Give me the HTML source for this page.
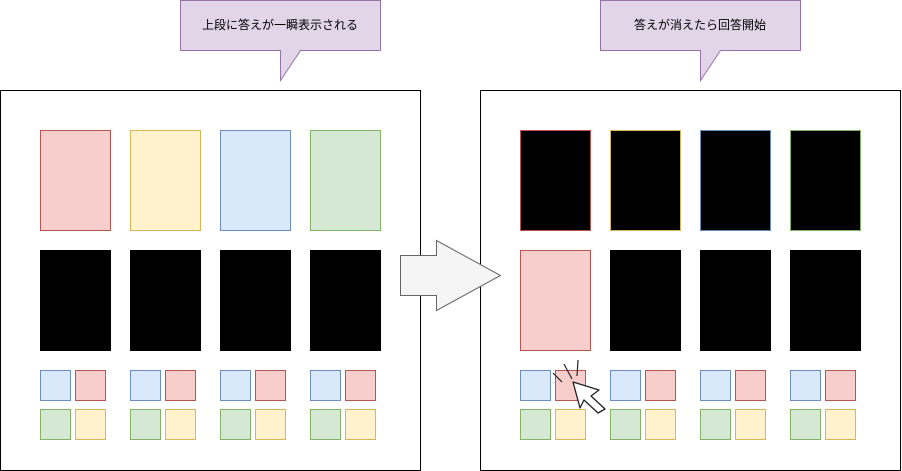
<!DOCTYPE html>
<html><head><meta charset="utf-8"><style>
html,body{margin:0;padding:0;background:#fff;}
svg{display:block;}
text{font-family:"Liberation Sans","Noto Sans CJK JP",sans-serif;font-size:12px;fill:#000;}
</style></head><body>
<svg width="902" height="471" viewBox="0 0 902 471" xmlns="http://www.w3.org/2000/svg">
<g shape-rendering="crispEdges">
<rect x="0.5" y="90.5" width="420" height="380" fill="#fff" stroke="#000"/>
<rect x="480.5" y="90.5" width="420" height="380" fill="#fff" stroke="#000"/>
<!-- left top cards -->
<rect x="40.5" y="130.5" width="70" height="100" fill="#f8cecc" stroke="#b85450"/>
<rect x="130.5" y="130.5" width="70" height="100" fill="#fff2cc" stroke="#d6b656"/>
<rect x="220.5" y="130.5" width="70" height="100" fill="#dae8fc" stroke="#6c8ebf"/>
<rect x="310.5" y="130.5" width="70" height="100" fill="#d5e8d4" stroke="#82b366"/>
<!-- left black -->
<rect x="40" y="250" width="71" height="101" fill="#000"/>
<rect x="130" y="250" width="71" height="101" fill="#000"/>
<rect x="220" y="250" width="71" height="101" fill="#000"/>
<rect x="310" y="250" width="71" height="101" fill="#000"/>
<!-- right top black with colored borders -->
<rect x="520.5" y="130.5" width="70" height="100" fill="#000" stroke="#b85450"/>
<rect x="610.5" y="130.5" width="70" height="100" fill="#000" stroke="#d6b656"/>
<rect x="700.5" y="130.5" width="70" height="100" fill="#000" stroke="#6c8ebf"/>
<rect x="790.5" y="130.5" width="70" height="100" fill="#000" stroke="#82b366"/>
<!-- right second row -->
<rect x="520.5" y="250.5" width="70" height="100" fill="#f8cecc" stroke="#b85450"/>
<rect x="610" y="250" width="71" height="101" fill="#000"/>
<rect x="700" y="250" width="71" height="101" fill="#000"/>
<rect x="790" y="250" width="71" height="101" fill="#000"/>
<!-- small squares -->
<g id="sq">
<rect x="40.5" y="370.5" width="30" height="30" fill="#dae8fc" stroke="#6c8ebf"/>
<rect x="75.5" y="370.5" width="30" height="30" fill="#f8cecc" stroke="#b85450"/>
<rect x="40.5" y="409.5" width="30" height="30" fill="#d5e8d4" stroke="#82b366"/>
<rect x="75.5" y="409.5" width="30" height="30" fill="#fff2cc" stroke="#d6b656"/>
</g>
<use href="#sq" x="90"/><use href="#sq" x="180"/><use href="#sq" x="270"/>
<use href="#sq" x="480"/><use href="#sq" x="570"/><use href="#sq" x="660"/><use href="#sq" x="750"/>
</g>
<!-- big arrow -->
<polygon points="400.5,255.5 436.5,255.5 436.5,240.5 500.5,275.5 436.5,310.5 436.5,295.5 400.5,295.5" fill="#f5f5f5" stroke="#666"/>
<!-- callouts -->
<polygon points="180.5,0.5 380.5,0.5 380.5,50.5 300.5,50.5 280.5,80.5 280.5,50.5 180.5,50.5" fill="#e1d5e7" stroke="#9673a6"/>
<text x="280" y="29" text-anchor="middle">上段に答えが一瞬表示される</text>
<polygon points="600.5,0.5 800.5,0.5 800.5,50.5 720.5,50.5 700.5,80.5 700.5,50.5 600.5,50.5" fill="#e1d5e7" stroke="#9673a6"/>
<text x="700" y="29" text-anchor="middle">答えが消えたら回答開始</text>
<!-- cursor -->
<polygon points="573,382 599,390 591,396 605,409 598,413 584,400 580,408" fill="#fff" stroke="#222" stroke-width="1.3" stroke-linejoin="round"/>
<line x1="553" y1="373" x2="562" y2="382" stroke="#222" stroke-width="1.2"/>
<line x1="564" y1="364" x2="572" y2="379" stroke="#222" stroke-width="1.2"/>
<line x1="578" y1="360" x2="577" y2="376" stroke="#222" stroke-width="1.2"/>
</svg>
</body></html>
